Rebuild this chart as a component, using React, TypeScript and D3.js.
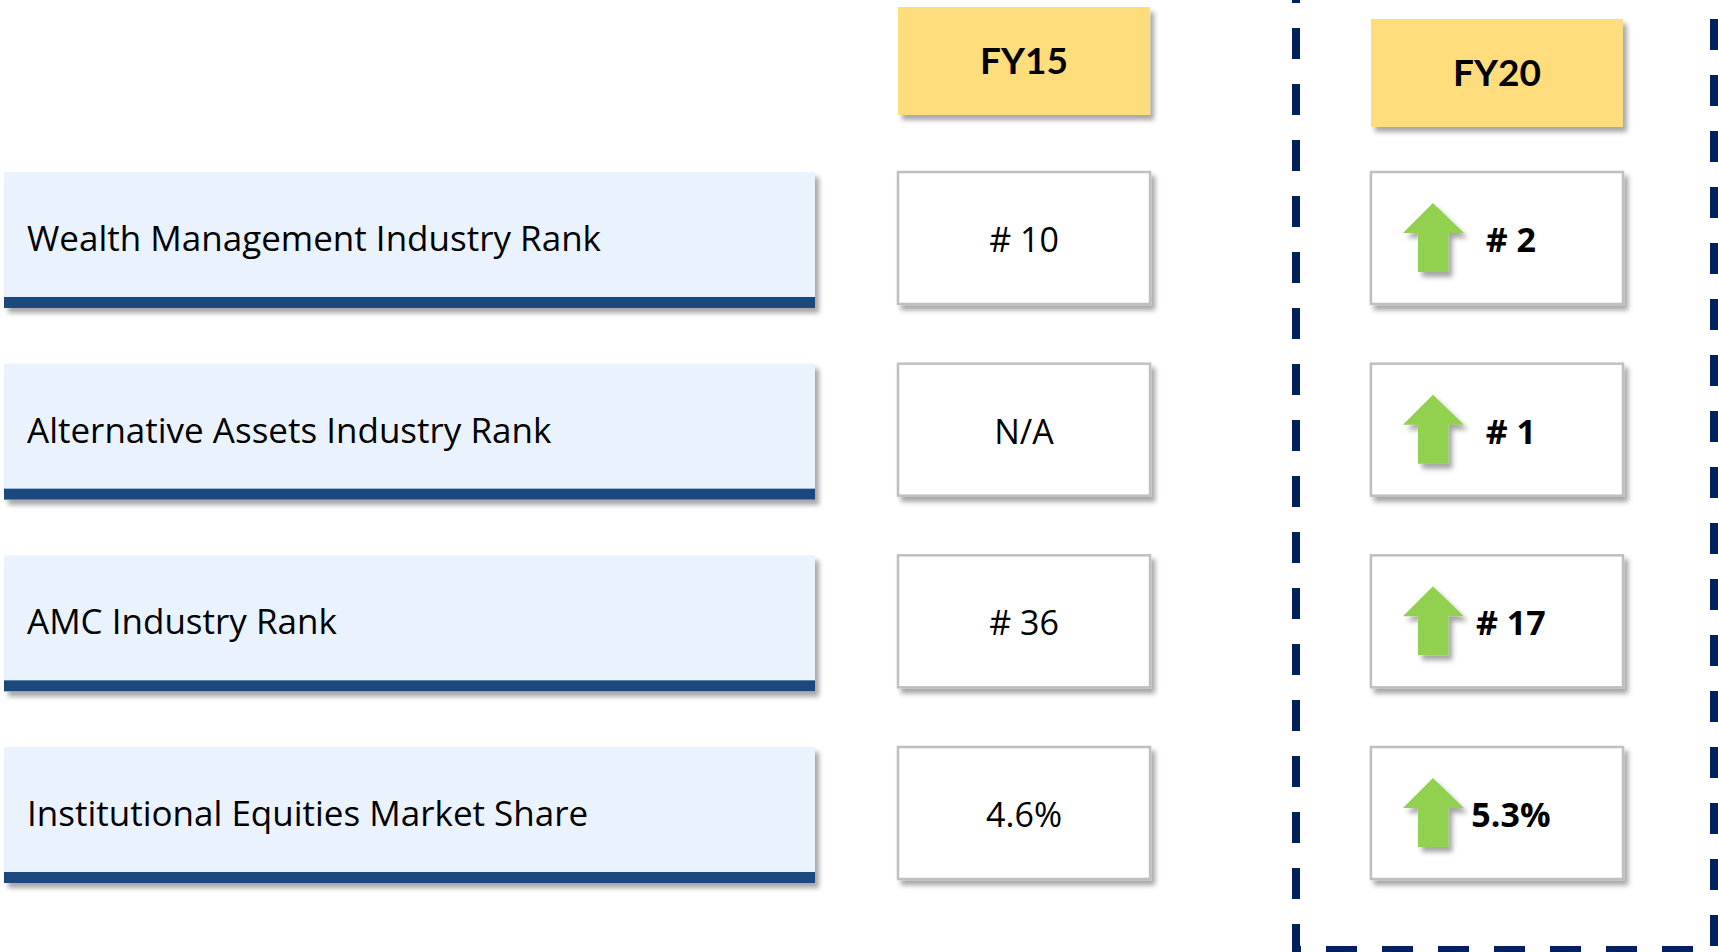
import React, { useEffect } from "react";
import * as d3 from "d3";

const categories = [
  "Wealth Management Industry Rank",
  "Alternative Assets Industry Rank",
  "AMC Industry Rank",
  "Institutional Equities Market Share",
];
const periods = ["FY15", "FY20"];
const fy15Values = ["# 10", "N/A", "# 36", "4.6%"];
const fy20Values = ["# 2", "# 1", "# 17", "5.3%"];
const fy20Improved = [true, true, true, true];

const W = 1718;
const H = 952;
const FONT = "'Open Sans', Lato, sans-serif";
const FONT_B = "Lato, 'Open Sans', sans-serif";

export default function App() {
  useEffect(() => {
    document.body.style.margin = "0";
  }, []);

  const y = d3
    .scaleBand<string>()
    .domain(categories)
    .range([172, 879])
    .paddingInner(0.3114)
    .paddingOuter(0)
    .align(0);
  const x = d3
    .scaleBand<string>()
    .domain(periods)
    .range([898, 1623])
    .paddingInner(0.467)
    .paddingOuter(0);

  const bh = y.bandwidth();
  const bw = x.bandwidth();
  const labelX0 = 4;
  const labelX1 = 815;
  const labelH = bh + 4;
  const barH = 11;

  const headerY: Record<string, number> = { FY15: 7, FY20: 19 };
  const headerH = 108;

  const dashLeft = 1296;
  const dashRight = 1714;
  const dashBottom = 950;
  const dashPath = d3.path();
  dashPath.moveTo(dashLeft, -28);
  dashPath.lineTo(dashLeft, dashBottom);
  dashPath.lineTo(dashRight, dashBottom);
  dashPath.lineTo(dashRight, -28);

  const arrow = (x0: number, y0: number) => {
    const p = d3.path();
    p.moveTo(x0 + 62, y0 + 31);
    p.lineTo(x0 + 93, y0 + 61);
    p.lineTo(x0 + 77.5, y0 + 61);
    p.lineTo(x0 + 77.5, y0 + 100);
    p.lineTo(x0 + 47, y0 + 100);
    p.lineTo(x0 + 47, y0 + 61);
    p.lineTo(x0 + 32, y0 + 61);
    p.closePath();
    return p.toString();
  };

  return (
    <svg width={W} height={H} style={{ display: "block" }}>
      <defs>
        <filter id="sh" x="-10%" y="-10%" width="130%" height="140%">
          <feDropShadow dx="4" dy="5" stdDeviation="2.5" floodColor="#000" floodOpacity="0.35" />
        </filter>
      </defs>
      <rect x={0} y={0} width={W} height={H} fill="#ffffff" />

      <path
        d={dashPath.toString()}
        fill="none"
        stroke="#002060"
        strokeWidth={8}
        strokeDasharray="31 25"
      />

      {periods.map((p) => (
        <g key={p}>
          <rect
            x={x(p)}
            y={headerY[p]}
            width={bw}
            height={headerH}
            fill="#FFDD7B"
            filter="url(#sh)"
          />
          <text
            x={(x(p) as number) + bw / 2}
            y={headerY[p] + headerH / 2 + 13}
            textAnchor="middle"
            fontFamily={FONT_B}
            fontWeight={700}
            fontSize={37}
            fill="#000"
          >
            {p}
          </text>
        </g>
      ))}

      {categories.map((c, i) => {
        const y0 = y(c) as number;
        const x15 = x("FY15") as number;
        const x20 = x("FY20") as number;
        return (
          <g key={c}>
            <g filter="url(#sh)">
              <rect x={labelX0} y={y0} width={labelX1 - labelX0} height={labelH} fill="#EAF3FD" />
              <rect x={labelX0} y={y0 + labelH - barH} width={labelX1 - labelX0} height={barH} fill="#1F497D" />
            </g>
            <text
              x={27}
              y={y0 + bh / 2 + 13}
              fontFamily={FONT}
              fontSize={35}
              fill="#000"
            >
              {c}
            </text>

            <rect
              x={x15}
              y={y0}
              width={bw}
              height={bh}
              fill="#fff"
              stroke="#BFBFBF"
              strokeWidth={2.5}
              filter="url(#sh)"
            />
            <text
              x={x15 + bw / 2}
              y={y0 + bh / 2 + 14}
              textAnchor="middle"
              fontFamily={FONT}
              fontSize={34}
              fill="#000"
            >
              {fy15Values[i]}
            </text>

            <rect
              x={x20}
              y={y0}
              width={bw}
              height={bh}
              fill="#fff"
              stroke="#BFBFBF"
              strokeWidth={2.5}
              filter="url(#sh)"
            />
            {fy20Improved[i] && (
              <path d={arrow(x20, y0)} fill="#92D050" filter="url(#sh)" />
            )}
            <text
              x={x20 + 140}
              y={y0 + bh / 2 + 14}
              textAnchor="middle"
              fontFamily={FONT}
              fontWeight={700}
              fontSize={34}
              fill="#000"
            >
              {fy20Values[i]}
            </text>
          </g>
        );
      })}
    </svg>
  );
}
